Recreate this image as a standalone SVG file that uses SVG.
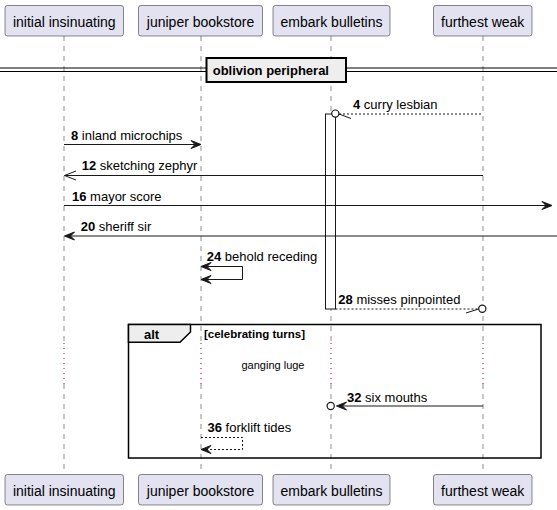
<svg xmlns="http://www.w3.org/2000/svg" width="557" height="510" viewBox="0 0 557 510">
<style>
text{font-family:"Liberation Sans",Arial,sans-serif;fill:#000}
.pbox{fill:#E2E2F0;stroke:#181818;stroke-width:0.5}
.ptxt{font-size:14px;text-anchor:middle}
.life{stroke:#181818;stroke-width:0.5;stroke-dasharray:5,5;fill:none}
.delay{stroke:#A80036;stroke-width:1;stroke-dasharray:1,4;fill:none}
.msg{stroke:#181818;stroke-width:1;fill:none}
.dash{stroke-dasharray:2,2}
.head{fill:#181818;stroke:#181818;stroke-width:1}
.lbl{font-size:13px}
.b{font-weight:bold}
</style>
<rect width="557" height="510" fill="#fff"/>

<g id="lifelines">
<line class="life" x1="64" y1="36" x2="64" y2="343"/>
<line class="life" x1="64" y1="384" x2="64" y2="474"/>
<line class="delay" x1="64" y1="343" x2="64" y2="384"/>
<line class="life" x1="201" y1="36" x2="201" y2="343"/>
<line class="life" x1="201" y1="384" x2="201" y2="474"/>
<line class="delay" x1="201" y1="343" x2="201" y2="384"/>
<line class="life" x1="331" y1="36" x2="331" y2="343"/>
<line class="life" x1="331" y1="384" x2="331" y2="474"/>
<line class="delay" x1="331" y1="343" x2="331" y2="384"/>
<line class="life" x1="483" y1="36" x2="483" y2="343"/>
<line class="life" x1="483" y1="384" x2="483" y2="474"/>
<line class="delay" x1="483" y1="343" x2="483" y2="384"/>
</g>

<g id="p-initial">
<rect class="pbox" x="5" y="5.5" width="118.5" height="30.5" rx="2.5"/>
<text class="ptxt" x="64.3" y="26.5">initial insinuating</text>
<rect class="pbox" x="5" y="474.5" width="118.5" height="30.5" rx="2.5"/>
<text class="ptxt" x="64.3" y="495.5">initial insinuating</text>
</g>
<g id="p-juniper">
<rect class="pbox" x="138.5" y="5.5" width="124" height="30.5" rx="2.5"/>
<text class="ptxt" x="200.5" y="26.5">juniper bookstore</text>
<rect class="pbox" x="138.5" y="474.5" width="124" height="30.5" rx="2.5"/>
<text class="ptxt" x="200.5" y="495.5">juniper bookstore</text>
</g>
<g id="p-embark">
<rect class="pbox" x="273" y="5.5" width="117" height="30.5" rx="2.5"/>
<text class="ptxt" x="331.5" y="26.5">embark bulletins</text>
<rect class="pbox" x="273" y="474.5" width="117" height="30.5" rx="2.5"/>
<text class="ptxt" x="331.5" y="495.5">embark bulletins</text>
</g>
<g id="p-furthest">
<rect class="pbox" x="433.5" y="5.5" width="98.5" height="30.5" rx="2.5"/>
<text class="ptxt" x="482.75" y="26.5">furthest weak</text>
<rect class="pbox" x="433.5" y="474.5" width="98.5" height="30.5" rx="2.5"/>
<text class="ptxt" x="482.75" y="495.5">furthest weak</text>
</g>

<g id="separator">
<line x1="0" y1="68" x2="557" y2="68" stroke="#000" stroke-width="1"/>
<line x1="0" y1="71.5" x2="557" y2="71.5" stroke="#000" stroke-width="1"/>
<rect x="206.5" y="58" width="139.5" height="24" fill="#EEEEEE" stroke="#000" stroke-width="2"/>
<text class="b" x="212.7" y="74.5" font-size="13px">oblivion peripheral</text>
</g>

<g id="activation">
<rect x="325.5" y="114" width="10" height="195" fill="#fff" stroke="#181818" stroke-width="1"/>
</g>

<g id="alt-frame">
<rect x="128.5" y="324.5" width="412.5" height="133.5" fill="none" stroke="#000" stroke-width="1.5"/>
<path d="M128.5,324.5 L190.5,324.5 L190.5,332 L180,342.3 L128.5,342.3 Z" fill="#EEEEEE" stroke="#000" stroke-width="1.5"/>
<text class="b" x="144" y="339" font-size="13px">alt</text>
<text class="b" x="204" y="338" font-size="11.5px">[celebrating turns]</text>
<text x="273" y="368.5" font-size="11px" text-anchor="middle">ganging luge</text>
</g>

<g id="connectors">
<!-- 4 -->
<line class="msg dash" x1="339" y1="114" x2="483" y2="114"/>
<circle cx="335.3" cy="113.6" r="3.6" fill="#fff" stroke="#181818" stroke-width="1.2"/>
<line class="msg" x1="339" y1="114" x2="351" y2="118.5"/>
<text class="lbl" x="353" y="109"><tspan class="b">4</tspan> curry lesbian</text>
<!-- 8 -->
<line class="msg" x1="64" y1="144.5" x2="199" y2="144.5"/>
<polygon class="head" points="201,144.5 191,140.5 195,144.5 191,148.5"/>
<text class="lbl" x="71" y="139.5"><tspan class="b">8</tspan> inland microchips</text>
<!-- 12 -->
<line class="msg" x1="64.5" y1="175.5" x2="483" y2="175.5"/>
<polyline class="msg" points="76,171 64.5,175.5 76,180"/>
<text class="lbl" x="81.7" y="170"><tspan class="b">12</tspan> sketching zephyr</text>
<!-- 16 -->
<line class="msg" x1="64" y1="205.5" x2="550" y2="205.5"/>
<polygon class="head" points="552,205.5 542,201.5 546,205.5 542,209.5"/>
<text class="lbl" x="72" y="200.5"><tspan class="b">16</tspan> mayor score</text>
<!-- 20 -->
<line class="msg" x1="66" y1="236" x2="557" y2="236"/>
<polygon class="head" points="64.5,236 74.5,232 70.5,236 74.5,240"/>
<text class="lbl" x="80.7" y="231"><tspan class="b">20</tspan> sheriff sir</text>
<!-- 24 -->
<polyline class="msg" points="202,266.5 242.5,266.5 242.5,279.5 202,279.5"/>
<polygon class="head" points="201,266.5 211,262.5 207,266.5 211,270.5"/>
<polygon class="head" points="201,279.5 211,275.5 207,279.5 211,283.5"/>
<text class="lbl" x="206.7" y="261"><tspan class="b">24</tspan> behold receding</text>
<!-- 28 -->
<line class="msg dash" x1="335.5" y1="309" x2="478.5" y2="309"/>
<circle cx="482.3" cy="308.7" r="3.6" fill="#fff" stroke="#181818" stroke-width="1.2"/>
<line class="msg" x1="478.5" y1="309" x2="466" y2="313"/>
<text class="lbl" x="338.3" y="303.5"><tspan class="b">28</tspan> misses pinpointed</text>
<!-- 32 -->
<line class="msg" x1="339" y1="406" x2="483" y2="406"/>
<polygon class="head" points="336.5,406 346.5,402 342.5,406 346.5,410"/>
<circle cx="330.7" cy="406" r="3.6" fill="#fff" stroke="#181818" stroke-width="1.2"/>
<text class="lbl" x="347" y="401.5"><tspan class="b">32</tspan> six mouths</text>
<!-- 36 -->
<polyline class="msg dash" points="201,437.5 242.5,437.5 242.5,449.5 202,449.5"/>
<polygon class="head" points="201,449.5 211,445.5 207,449.5 211,453.5"/>
<text class="lbl" x="207.5" y="432"><tspan class="b">36</tspan> forklift tides</text>
</g>
</svg>
